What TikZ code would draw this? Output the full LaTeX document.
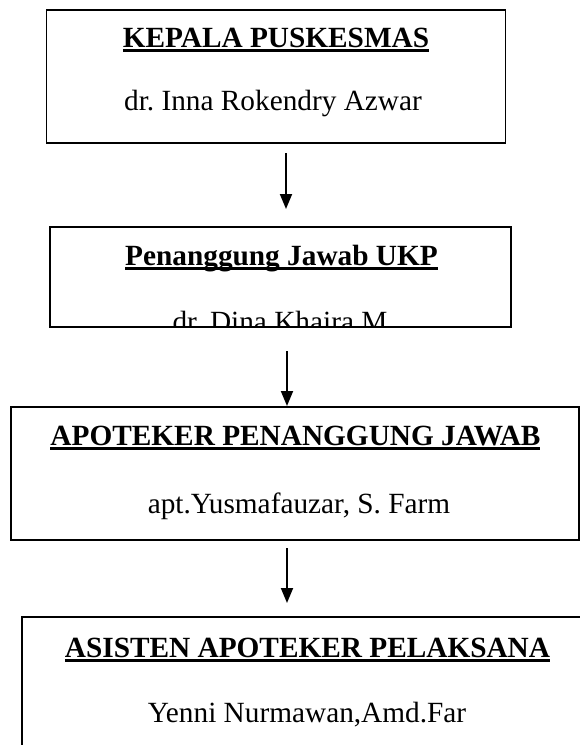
\documentclass[tikz,border=0pt]{standalone}
\usepackage{fontspec}
\setmainfont{Liberation Serif}
\usetikzlibrary{
    arrows.meta,  % For arrow tips
    positioning   % For relative placement
}
\frenchspacing

% Bold heading with a thick underline
\newcommand{\ulhead}[1]{\sbox0{\bfseries #1}\rlap{\raisebox{-5pt}{\rule{\wd0}{3pt}}}\usebox0}

\begin{document}
\begin{tikzpicture}[
    x=1pt, y=-1pt, % Work in picture pixels, y going down
    >=Triangle, % Default arrow tip
    orgbox/.style={draw, line width=1.3pt, inner sep=0pt}, % Style for the boxes
    heading/.style={font=\fontsize{29.3}{34}\selectfont, anchor=base, inner sep=0pt}, % Underlined titles
    person/.style={font=\fontsize{29.3}{34}\selectfont, anchor=base, inner sep=0pt},  % Names under titles
    arrow/.style={-{Triangle[length=15pt,width=12pt]}, line width=1.8pt} % Style for the arrows
]

    % Page frame
    \clip (0,0) rectangle (580,745);

    % Boxes
    \node[orgbox, minimum width=459pt, minimum height=133pt] (kepala) at (276,76.5) {};
    \node[orgbox, minimum width=461pt, minimum height=100pt] (ukp) at (280.5,277) {};
    \node[orgbox, minimum width=568pt, minimum height=133pt] (apoteker) at (295,473.5) {};
    \node[orgbox, minimum width=620pt, minimum height=200pt] (asisten) at (332,717) {}; % runs off the page

    % Texts of the top box
    \node[heading] (kepalaT) at (276,47) {\ulhead{KEPALA PUSKESMAS}};
    \node[person] (kepalaN) at (273,110) {dr. Inna Rokendry Azwar};

    % Texts of the second box, cut by its lower edge
    \node[heading] (ukpT) at (281.5,265) {\ulhead{Penanggung Jawab UKP}};
    \begin{scope}
        \clip (ukp.south west) rectangle (ukp.north east);
        \node[person] (ukpN) at (280,331) {dr. Dina Khaira M};
    \end{scope}

    % Texts of the third box
    \node[heading] (apotekerT) at (295.5,445) {\ulhead{APOTEKER PENANGGUNG JAWAB}};
    \node[person] (apotekerN) at (299,513) {apt.Yusmafauzar, S. Farm};

    % Texts of the bottom box
    \node[heading] (asistenT) at (307.5,657) {\ulhead{ASISTEN APOTEKER PELAKSANA}};
    \node[person] (asistenN) at (307,722) {Yenni Nurmawan,Amd.Far};

    % Arrow end points
    \coordinate (a1s) at (286,153);
    \coordinate (a1e) at (286,209);
    \coordinate (a2s) at (287,351);
    \coordinate (a2e) at (287,406);
    \coordinate (a3s) at (287,548);
    \coordinate (a3e) at (287,603);

    % Arrows
    \draw[arrow] (a1s) -- (a1e);
    \draw[arrow] (a2s) -- (a2e);
    \draw[arrow] (a3s) -- (a3e);

\end{tikzpicture}
\end{document}
